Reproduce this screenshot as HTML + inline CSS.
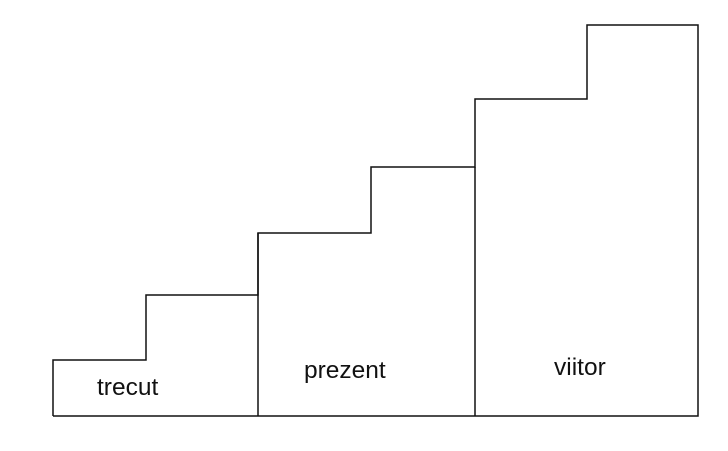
<!DOCTYPE html>
<html><head><style>
html,body{margin:0;padding:0;background:#fff;}
svg{display:block;}
text{font-family:"Liberation Sans",sans-serif;font-size:24.5px;fill:#111;}
</style></head><body>
<svg width="728" height="451" viewBox="0 0 728 451">
<g stroke="#111" stroke-width="1.5" fill="none">
<polyline points="53,416 53,360 146,360 146,295 258,295 258,233 371,233 371,167 475,167 475,99 587,99 587,25 698,25 698,416 53,416"/>
<line x1="258" y1="233" x2="258" y2="416"/>
<line x1="475" y1="167" x2="475" y2="416"/>
</g>
<text x="97" y="395">trecut</text>
<text x="304" y="378">prezent</text>
<text x="554" y="375">viitor</text>
</svg>
</body></html>
